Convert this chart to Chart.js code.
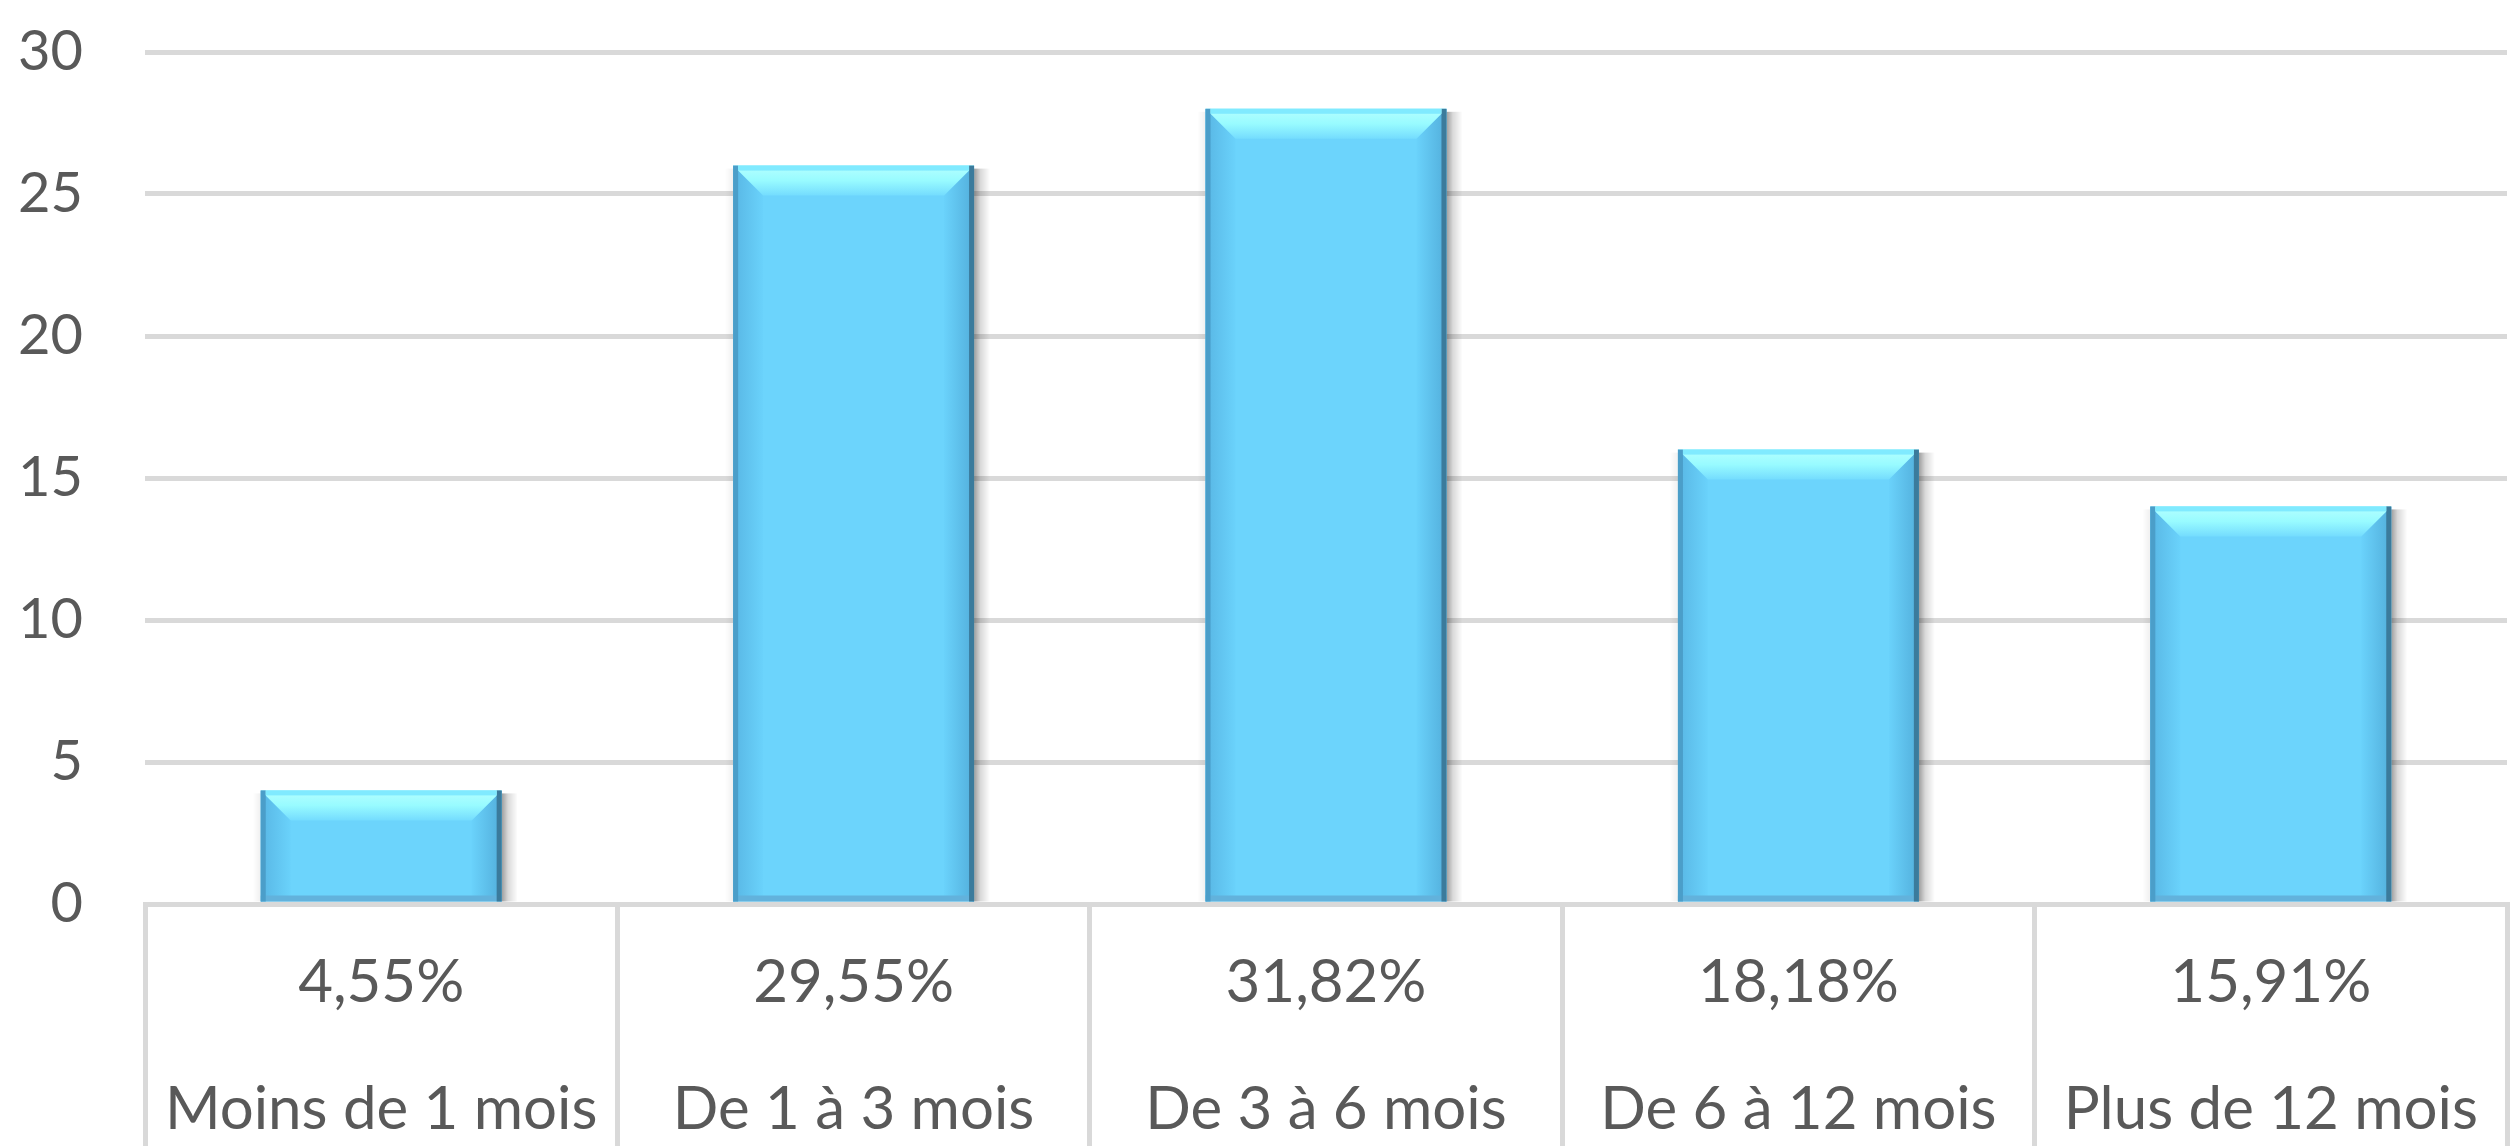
<!DOCTYPE html>
<html>
<head>
<meta charset="utf-8">
<script src="https://cdn.jsdelivr.net/npm/chart.js@4/dist/chart.umd.min.js"></script>
<style>
  html, body { margin: 0; padding: 0; background: #ffffff; }
  #wrap { width: 2512px; height: 1146px; position: relative; }
</style>
</head>
<body>
<div id="wrap"><canvas id="c"></canvas></div>
<script>
const categories = ["Moins de 1 mois", "De 1 à 3 mois", "De 3 à 6 mois", "De 6 à 12 mois", "Plus de 12 mois"];
const percentLabels = ["4,55%", "29,55%", "31,82%", "18,18%", "15,91%"];
const values = [4, 26, 28, 16, 14];
const yTicks = [0, 5, 10, 15, 20, 25, 30];

const TXT = '#595959';
const GRID = '#d9d9d9';

const bevelPlugin = {
  id: 'bevel',
  afterDatasetsDraw(chart) {
    const ctx = chart.ctx;
    chart.getDatasetMeta(0).data.forEach(bar => {
      const p = bar.getProps(['x', 'y', 'width', 'base'], true);
      const l = p.x - p.width / 2, r = p.x + p.width / 2, t = p.y, b = p.base;
      const bv = 30;
      ctx.save();
      let g = ctx.createLinearGradient(r, 0, r + 16, 0);
      g.addColorStop(0, 'rgba(0,0,0,0.38)');
      g.addColorStop(0.4, 'rgba(0,0,0,0.15)');
      g.addColorStop(1, 'rgba(0,0,0,0)');
      ctx.fillStyle = g;
      ctx.fillRect(r, t + 3, 16, b - t - 3);
      g = ctx.createLinearGradient(l - 8, 0, l, 0);
      g.addColorStop(0, 'rgba(0,0,0,0)');
      g.addColorStop(1, 'rgba(0,0,0,0.06)');
      ctx.fillStyle = g;
      ctx.fillRect(l - 8, t + 3, 8, b - t - 3);

      const h = b - t;
      const bb = Math.min(bv, h / 2);
      g = ctx.createLinearGradient(l, 0, l + bb, 0);
      g.addColorStop(0, '#58b6e4');
      g.addColorStop(1, '#6ad2fb');
      ctx.fillStyle = g;
      ctx.beginPath();
      ctx.moveTo(l, t); ctx.lineTo(l + bb, t + bb); ctx.lineTo(l + bb, b - 6); ctx.lineTo(l, b);
      ctx.closePath(); ctx.fill();
      g = ctx.createLinearGradient(r, 0, r - bb, 0);
      g.addColorStop(0, '#52aedb');
      g.addColorStop(1, '#6ad2fb');
      ctx.fillStyle = g;
      ctx.beginPath();
      ctx.moveTo(r, t); ctx.lineTo(r - bb, t + bb); ctx.lineTo(r - bb, b - 6); ctx.lineTo(r, b);
      ctx.closePath(); ctx.fill();
      g = ctx.createLinearGradient(0, t, 0, t + bb);
      g.addColorStop(0, '#b4ffff');
      g.addColorStop(0.5, '#98fbff');
      g.addColorStop(1, '#74dcfe');
      ctx.fillStyle = g;
      ctx.beginPath();
      ctx.moveTo(l, t); ctx.lineTo(r, t); ctx.lineTo(r - bb, t + bb); ctx.lineTo(l + bb, t + bb);
      ctx.closePath(); ctx.fill();
      ctx.fillStyle = '#62b2dc';
      ctx.fillRect(l, b - 6, p.width, 6);
      ctx.fillStyle = '#4b9ec9';
      ctx.fillRect(l, t, 5, h);
      ctx.fillStyle = '#3b7b9c';
      ctx.fillRect(r - 5, t, 5, h);
      ctx.fillStyle = '#80eaff';
      ctx.fillRect(l + 5, t, p.width - 10, 5);
      ctx.restore();
    });
  }
};

const chart = new Chart(document.getElementById('c'), {
  type: 'bar',
  data: {
    labels: categories.map((c, i) => [percentLabels[i], c]),
    datasets: [{
      data: values,
      backgroundColor: '#6cd4fc',
      borderWidth: 0,
      barPercentage: 0.51,
      categoryPercentage: 1.0
    }]
  },
  options: {
    responsive: true,
    maintainAspectRatio: false,
    animation: false,
    devicePixelRatio: 1,
    layout: { padding: { top: 52, right: 5, left: 0, bottom: 0 } },
    plugins: { legend: { display: false }, tooltip: { enabled: false } },
    scales: {
      x: {
        offset: true,
        grid: {
          offset: true,
          drawOnChartArea: false,
          drawTicks: true,
          tickLength: 242,
          color: GRID,
          lineWidth: 5
        },
        border: { display: true, color: GRID, width: 5 },
        ticks: {
          color: TXT,
          font: { family: 'Lato', size: 60, lineHeight: 2.12 },
          padding: -227,
          maxRotation: 0,
          autoSkip: false
        },
        afterFit(scale) { scale.height = 242; }
      },
      y: {
        min: 0,
        max: 30,
        afterBuildTicks(scale) { scale.ticks = yTicks.map(v => ({ value: v })); },
        grid: { color: GRID, lineWidth: 5, drawTicks: false },
        border: { display: false },
        ticks: {
          color: TXT,
          font: { family: 'Lato', size: 56 },
          padding: 62
        },
        afterFit(scale) {
          scale.width = 145;
          scale.paddingTop = 30;
          scale.paddingBottom = 30;
        }
      }
    }
  },
  plugins: [bevelPlugin]
});
</script>
</body>
</html>
